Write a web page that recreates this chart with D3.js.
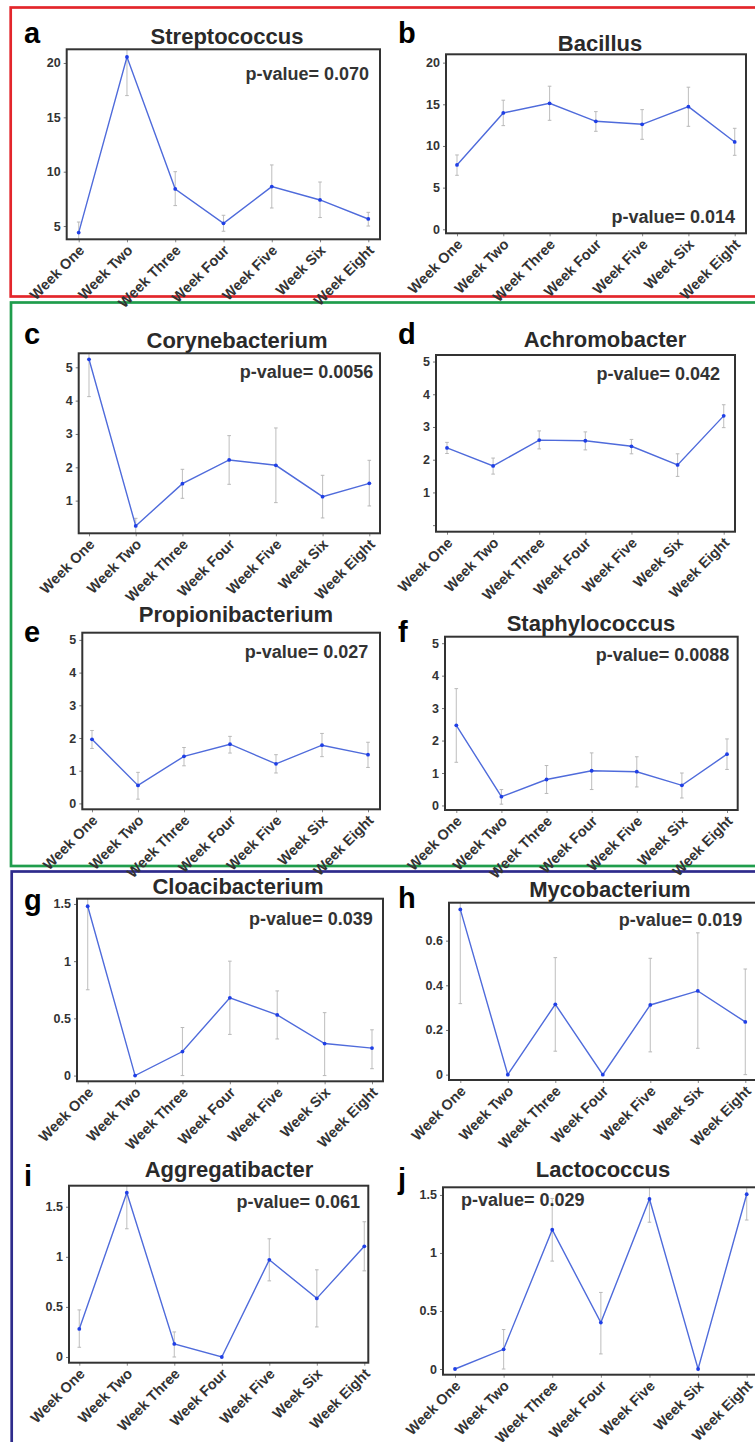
<!DOCTYPE html>
<html>
<head>
<meta charset="utf-8">
<script src="https://cdn.jsdelivr.net/npm/d3@7"></script>
<style>
  html, body { margin: 0; padding: 0; background: #fff; }
  svg { display: block; font-family: "Liberation Sans", Arial, sans-serif; }
</style>
</head>
<body>
<div id="chart"></div>
<script>
const weeks = ['Week One', 'Week Two', 'Week Three', 'Week Four', 'Week Five', 'Week Six', 'Week Eight']

// mean, lower and upper end of the error bar, per week
const streptococcusMean = [4.4, 20.55, 8.41, 5.25, 8.63, 7.4, 5.65]
const streptococcusLow = [3.43, 17.0, 6.88, 4.52, 6.66, 5.78, 5.0]
const streptococcusHigh = [5.37, 24.1, 10.0, 5.99, 10.62, 9.05, 6.26]

const bacillusMean = [7.72, 13.96, 15.12, 12.96, 12.6, 14.72, 10.48]
const bacillusLow = [6.48, 12.44, 13.08, 11.76, 10.8, 12.36, 8.88]
const bacillusHigh = [8.92, 15.49, 17.17, 14.12, 14.36, 17.05, 12.12]

const corynebacteriumMean = [5.24, 0.24, 1.51, 2.22, 2.06, 1.12, 1.52]
const corynebacteriumLow = [4.12, 0.01, 1.07, 1.49, 0.94, 0.48, 0.84]
const corynebacteriumHigh = [6.36, 0.47, 1.94, 2.95, 3.18, 1.76, 2.21]

const achromobacterMean = [2.36, 1.81, 2.6, 2.58, 2.41, 1.84, 3.34]
const achromobacterLow = [2.19, 1.56, 2.33, 2.3, 2.18, 1.49, 2.98]
const achromobacterHigh = [2.53, 2.05, 2.88, 2.85, 2.62, 2.18, 3.68]

const propionibacteriumMean = [1.96, 0.55, 1.44, 1.81, 1.21, 1.78, 1.49]
const propionibacteriumLow = [1.68, 0.13, 1.15, 1.54, 0.93, 1.43, 1.1]
const propionibacteriumHigh = [2.23, 0.95, 1.71, 2.05, 1.49, 2.14, 1.87]

const staphylococcusMean = [2.47, 0.27, 0.8, 1.07, 1.04, 0.62, 1.58]
const staphylococcusLow = [1.33, 0.04, 0.37, 0.49, 0.57, 0.23, 1.11]
const staphylococcusHigh = [3.6, 0.49, 1.23, 1.62, 1.5, 1.0, 2.05]

const cloacibacteriumMean = [1.48, 0.0, 0.21, 0.68, 0.53, 0.28, 0.24]
const cloacibacteriumLow = [0.75, 0.0, 0.0, 0.36, 0.32, 0.0, 0.06]
const cloacibacteriumHigh = [2.21, 0.0, 0.42, 1.0, 0.74, 0.55, 0.4]

const mycobacteriumMean = [0.74, 0.0, 0.315, 0.0, 0.312, 0.375, 0.236]
const mycobacteriumLow = [0.318, 0.0, 0.105, 0.0, 0.102, 0.118, 0.0]
const mycobacteriumHigh = [1.16, 0.0, 0.524, 0.0, 0.521, 0.635, 0.473]

const aggregatibacterMean = [0.28, 1.64, 0.13, 0.0, 0.97, 0.585, 1.105]
const aggregatibacterLow = [0.097, 1.28, 0.0, 0.0, 0.76, 0.3, 0.86]
const aggregatibacterHigh = [0.47, 2.0, 0.25, 0.0, 1.18, 0.87, 1.35]

const lactococcusMean = [0.0, 0.17, 1.2, 0.4, 1.465, 0.0, 1.506]
const lactococcusLow = [0.0, 0.0, 0.93, 0.13, 1.265, 0.0, 1.284]
const lactococcusHigh = [0.0, 0.34, 1.47, 0.66, 1.665, 0.0, 1.728]

const pValues = ['0.070', '0.014', '0.0056', '0.042', '0.027', '0.0088', '0.039', '0.019', '0.061', '0.029']

const ticksA = [5, 10, 15, 20]
const ticksB = [0, 5, 10, 15, 20]
const ticksC = [1, 2, 3, 4, 5]
const ticksZeroToFive = [0, 1, 2, 3, 4, 5]
const ticksHalf = [0, 0.5, 1, 1.5]
const ticksMyco = [0, 0.2, 0.4, 0.6]

// layout: frame box, first/last point x, value at frame bottom/top, title and p-value spots
const panels = [
  { letter: 'a', name: 'Streptococcus', mean: streptococcusMean, low: streptococcusLow, high: streptococcusHigh,
    ticks: ticksA, frame: [66.7, 49.3, 380, 239.3], xr: [78.7, 368.3], yd: [3.78, 21.26],
    lx: 24, ly: 43, tx: 227, ty: 44, px: 369, py: 80, pAnchor: 'end' },
  { letter: 'b', name: 'Bacillus', mean: bacillusMean, low: bacillusLow, high: bacillusHigh,
    ticks: ticksB, frame: [446, 54.3, 746, 233.3], xr: [457, 734.7], yd: [-0.48, 21.0],
    lx: 398, ly: 43, tx: 600, ty: 51, px: 735, py: 222.7, pAnchor: 'end' },
  { letter: 'c', name: 'Corynebacterium', mean: corynebacteriumMean, low: corynebacteriumLow, high: corynebacteriumHigh,
    ticks: ticksC, frame: [78.7, 353.3, 380, 533.3], xr: [89, 369.3], yd: [0.02, 5.42],
    lx: 24, ly: 344, tx: 237, ty: 348.3, px: 373.3, py: 378.3, pAnchor: 'end' },
  { letter: 'd', name: 'Achromobacter', mean: achromobacterMean, low: achromobacterLow, high: achromobacterHigh,
    ticks: ticksZeroToFive, hideZero: true, frame: [436, 355, 735, 531.7], xr: [447, 723.7], yd: [-0.2, 5.2],
    lx: 398, ly: 344, tx: 605, ty: 346.7, px: 720, py: 380, pAnchor: 'end' },
  { letter: 'e', name: 'Propionibacterium', mean: propionibacteriumMean, low: propionibacteriumLow, high: propionibacteriumHigh,
    ticks: ticksZeroToFive, frame: [82.3, 632.7, 380, 809.3], xr: [92, 368], yd: [-0.18, 5.22],
    lx: 24, ly: 642, tx: 236, ty: 621.7, px: 368.3, py: 657.7, pAnchor: 'end' },
  { letter: 'f', name: 'Staphylococcus', mean: staphylococcusMean, low: staphylococcusLow, high: staphylococcusHigh,
    ticks: ticksZeroToFive, frame: [445, 636.7, 737.7, 810], xr: [456.3, 727], yd: [-0.14, 5.2],
    lx: 398, ly: 642, tx: 591, ty: 630.7, px: 729.3, py: 660.7, pAnchor: 'end' },
  { letter: 'g', name: 'Cloacibacterium', mean: cloacibacteriumMean, low: cloacibacteriumLow, high: cloacibacteriumHigh,
    ticks: ticksHalf, frame: [77, 898.7, 383, 1081.3], xr: [87.7, 372], yd: [-0.05, 1.546],
    lx: 24, ly: 910, tx: 238, ty: 894.3, px: 372.7, py: 925, pAnchor: 'end' },
  { letter: 'h', name: 'Mycobacterium', mean: mycobacteriumMean, low: mycobacteriumLow, high: mycobacteriumHigh,
    ticks: ticksMyco, frame: [449, 902.7, 757, 1080], xr: [460.3, 745.3], yd: [-0.024, 0.77],
    lx: 398, ly: 908, tx: 610, ty: 897.3, px: 742.3, py: 925.7, pAnchor: 'end' },
  { letter: 'i', name: 'Aggregatibacter', mean: aggregatibacterMean, low: aggregatibacterLow, high: aggregatibacterHigh,
    ticks: ticksHalf, frame: [69, 1185.7, 368.3, 1362.7], xr: [79.3, 364.3], yd: [-0.057, 1.71],
    lx: 24, ly: 1186, tx: 229, ty: 1177.3, px: 360, py: 1208.3, pAnchor: 'end' },
  { letter: 'j', name: 'Lactococcus', mean: lactococcusMean, low: lactococcusLow, high: lactococcusHigh,
    ticks: ticksHalf, frame: [443, 1187.3, 758, 1374.7], xr: [455, 746.7], yd: [-0.049, 1.566],
    lx: 398, ly: 1189, tx: 603, ty: 1176.7, px: 461, py: 1205.7, pAnchor: 'start' }
]

const groupBoxes = [
  { color: '#e3262b', x: 10.7, y: 7.5, w: 760, h: 289 },
  { color: '#1f9d4c', x: 11, y: 302.5, w: 760, h: 563.5 },
  { color: '#2e2b8c', x: 11.7, y: 871.5, w: 760, h: 600 }
]

const width = 755
const height = 1442

const svg = d3.select('#chart')
  .append('svg')
  .attr('width', width)
  .attr('height', height)
  .attr('viewBox', [0, 0, width, height].join(' '))

svg.selectAll('rect.group')
  .data(groupBoxes)
  .join('rect')
  .attr('class', 'group')
  .attr('x', d => d.x)
  .attr('y', d => d.y)
  .attr('width', d => d.w)
  .attr('height', d => d.h)
  .attr('fill', 'none')
  .attr('stroke', d => d.color)
  .attr('stroke-width', 2.7)

const defs = svg.append('defs')

panels.forEach((p, i) => {
  const [left, top, right, bottom] = p.frame
  const g = svg.append('g').attr('class', `panel panel-${p.letter}`)

  const x = d3.scalePoint().domain(weeks).range(p.xr)
  const y = d3.scaleLinear().domain(p.yd).range([bottom, top])

  defs.append('clipPath')
    .attr('id', `clip-${p.letter}`)
    .append('rect')
    .attr('x', left)
    .attr('y', top)
    .attr('width', right - left)
    .attr('height', bottom - top)

  // y axis
  const yAxis = g.append('g')
    .attr('transform', `translate(${left},0)`)
    .call(d3.axisLeft(y)
      .tickValues(p.ticks)
      .tickFormat(v => (p.hideZero && v === 0) ? '' : d3.format('~g')(v))
      .tickSize(3)
      .tickPadding(3))
  yAxis.select('.domain').remove()
  yAxis.selectAll('line').attr('stroke', '#777')
  yAxis.selectAll('text')
    .attr('font-family', '"Liberation Sans", Arial, sans-serif')
    .attr('font-size', 12.5)
    .attr('font-weight', 'bold')
    .attr('fill', '#333')

  // x axis
  const xAxis = g.append('g')
    .attr('transform', `translate(0,${bottom})`)
    .call(d3.axisBottom(x).tickSize(3))
  xAxis.select('.domain').remove()
  xAxis.selectAll('line').attr('stroke', '#888')
  xAxis.selectAll('text')
    .attr('x', 0)
    .attr('y', 0)
    .attr('dy', null)
    .attr('transform', 'translate(6,12) rotate(-45)')
    .attr('text-anchor', 'end')
    .attr('font-family', '"Liberation Sans", Arial, sans-serif')
    .attr('font-size', 14.5)
    .attr('font-weight', 'bold')
    .attr('fill', '#333')

  const plot = g.append('g').attr('clip-path', `url(#clip-${p.letter})`)
  const rows = weeks.map((w, k) => ({ week: w, mean: p.mean[k], low: p.low[k], high: p.high[k] }))
  const bars = rows.filter(d => d.high > d.low)

  plot.selectAll('line.err')
    .data(bars)
    .join('line')
    .attr('class', 'err')
    .attr('x1', d => x(d.week))
    .attr('x2', d => x(d.week))
    .attr('y1', d => y(d.low))
    .attr('y2', d => y(d.high))
    .attr('stroke', '#c4c4c4')
    .attr('stroke-width', 1.1)

  plot.selectAll('path.cap')
    .data(bars)
    .join('path')
    .attr('class', 'cap')
    .attr('d', d => `M${x(d.week) - 1.8},${y(d.low)}h3.6M${x(d.week) - 1.8},${y(d.high)}h3.6`)
    .attr('stroke', '#b8b8b8')
    .attr('stroke-width', 1)

  plot.append('path')
    .datum(rows)
    .attr('fill', 'none')
    .attr('stroke', '#4f6bdb')
    .attr('stroke-width', 1.4)
    .attr('d', d3.line().x(d => x(d.week)).y(d => y(d.mean)))

  plot.selectAll('circle.pt')
    .data(rows)
    .join('circle')
    .attr('class', 'pt')
    .attr('cx', d => x(d.week))
    .attr('cy', d => y(d.mean))
    .attr('r', 1.9)
    .attr('fill', '#1f3fe6')

  g.append('rect')
    .attr('x', left)
    .attr('y', top)
    .attr('width', right - left)
    .attr('height', bottom - top)
    .attr('fill', 'none')
    .attr('stroke', '#333')
    .attr('stroke-width', 2)

  g.append('text')
    .attr('x', p.tx)
    .attr('y', p.ty)
    .attr('text-anchor', 'middle')
    .attr('font-size', 22)
    .attr('font-weight', 'bold')
    .attr('fill', '#2a2a2a')
    .text(p.name)

  g.append('text')
    .attr('x', p.px)
    .attr('y', p.py)
    .attr('text-anchor', p.pAnchor)
    .attr('font-size', 18)
    .attr('font-weight', 'bold')
    .attr('fill', '#333')
    .text(`p-value= ${pValues[i]}`)

  g.append('text')
    .attr('x', p.lx)
    .attr('y', p.ly)
    .attr('font-size', 29)
    .attr('font-weight', 'bold')
    .attr('fill', '#000')
    .text(p.letter)
})
</script>
</body>
</html>
